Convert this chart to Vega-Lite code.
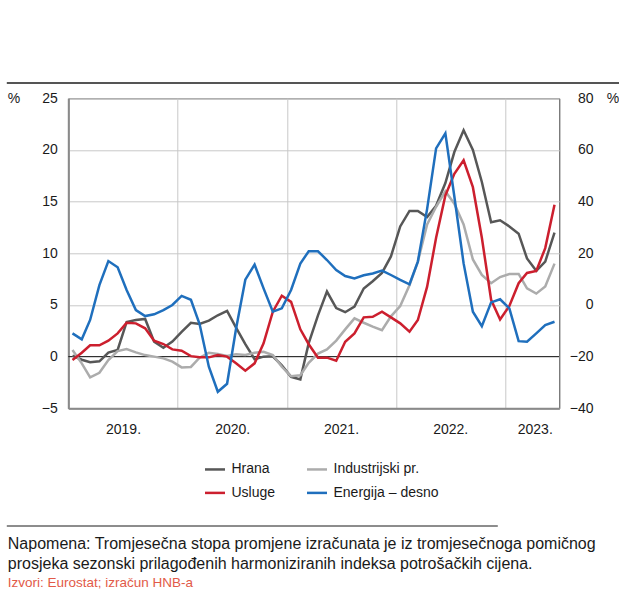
{
  "$schema": "https://vega.github.io/schema/vega-lite/v6.json",
  "width": 491,
  "height": 310,
  "autosize": {"type": "none"},
  "padding": {"left": 68.3, "top": 98.3, "right": 59.7, "bottom": 187.7},
  "config": {
    "font": "Liberation Sans",
    "view": {"stroke": "#444444", "strokeWidth": 1},
    "axis": {"labelFont": "Liberation Sans", "labelColor": "#1a1a1a", "labelFontSize": 14, "titleFont": "Liberation Sans", "titleFontSize": 14, "titleFontWeight": "normal", "titleColor": "#1a1a1a", "gridColor": "#c8c8c8", "gridWidth": 1},
    "legend": {"labelFont": "Liberation Sans", "labelFontSize": 14, "labelColor": "#1a1a1a"}
  },
  "title": {
    "text": ["Napomena: Tromjesečna stopa promjene izračunata je iz tromjesečnoga pomičnog", "prosjeka sezonski prilagođenih harmoniziranih indeksa potrošačkih cijena."],
    "subtitle": "Izvori: Eurostat; izračun HNB-a",
    "orient": "bottom", "anchor": "start", "frame": "group", "offset": 10, "dx": -60.5,
    "font": "Liberation Sans", "fontSize": 16, "fontWeight": "normal", "color": "#1a1a1a", "lineHeight": 20,
    "subtitleFont": "Liberation Sans", "subtitleFontSize": 13.5, "subtitleColor": "#e25a48", "subtitlePadding": 4, "subtitleLineHeight": 20
  },
  "data": {"values": [
    {"d": "2019-01-15", "Hrana": 0.1, "Usluge": -0.33, "Industrijski": 0.64, "Energija": -11.0},
    {"d": "2019-02-15", "Hrana": -0.3, "Usluge": 0.38, "Industrijski": -0.65, "Energija": -13.3},
    {"d": "2019-03-15", "Hrana": -0.55, "Usluge": 1.1, "Industrijski": -2.0, "Energija": -5.8},
    {"d": "2019-04-15", "Hrana": -0.45, "Usluge": 1.1, "Industrijski": -1.56, "Energija": 7.7},
    {"d": "2019-05-15", "Hrana": 0.4, "Usluge": 1.55, "Industrijski": -0.33, "Energija": 17.0},
    {"d": "2019-06-15", "Hrana": 0.65, "Usluge": 2.25, "Industrijski": 0.54, "Energija": 14.6},
    {"d": "2019-07-15", "Hrana": 3.35, "Usluge": 3.28, "Industrijski": 0.74, "Energija": 5.8},
    {"d": "2019-08-15", "Hrana": 3.55, "Usluge": 3.22, "Industrijski": 0.41, "Energija": -2.0},
    {"d": "2019-09-15", "Hrana": 3.65, "Usluge": 2.74, "Industrijski": 0.15, "Energija": -4.3},
    {"d": "2019-10-15", "Hrana": 1.45, "Usluge": 1.54, "Industrijski": 0.0, "Energija": -3.6},
    {"d": "2019-11-15", "Hrana": 0.85, "Usluge": 1.22, "Industrijski": -0.17, "Energija": -2.0},
    {"d": "2019-12-15", "Hrana": 1.45, "Usluge": 0.7, "Industrijski": -0.49, "Energija": 0.0},
    {"d": "2020-01-15", "Hrana": 2.4, "Usluge": 0.57, "Industrijski": -1.04, "Energija": 3.5},
    {"d": "2020-02-15", "Hrana": 3.28, "Usluge": 0.05, "Industrijski": -1.0, "Energija": 2.0},
    {"d": "2020-03-15", "Hrana": 3.16, "Usluge": -0.07, "Industrijski": -0.1, "Energija": -7.4},
    {"d": "2020-04-15", "Hrana": 3.48, "Usluge": -0.07, "Industrijski": 0.38, "Energija": -23.9},
    {"d": "2020-05-15", "Hrana": 4.0, "Usluge": 0.15, "Industrijski": 0.25, "Energija": -33.6},
    {"d": "2020-06-15", "Hrana": 4.42, "Usluge": 0.0, "Industrijski": 0.06, "Energija": -30.5},
    {"d": "2020-07-15", "Hrana": 2.8, "Usluge": -0.65, "Industrijski": 0.22, "Energija": -9.2},
    {"d": "2020-08-15", "Hrana": 1.2, "Usluge": -1.36, "Industrijski": 0.15, "Energija": 9.8},
    {"d": "2020-09-15", "Hrana": -0.25, "Usluge": -0.65, "Industrijski": 0.38, "Energija": 15.6},
    {"d": "2020-10-15", "Hrana": 0.0, "Usluge": 1.29, "Industrijski": 0.47, "Energija": 6.4},
    {"d": "2020-11-15", "Hrana": 0.03, "Usluge": 4.35, "Industrijski": 0.15, "Energija": -2.6},
    {"d": "2020-12-15", "Hrana": -0.85, "Usluge": 5.9, "Industrijski": -0.98, "Energija": -1.3},
    {"d": "2021-01-15", "Hrana": -1.95, "Usluge": 5.3, "Industrijski": -1.9, "Energija": 5.8},
    {"d": "2021-02-15", "Hrana": -2.2, "Usluge": 2.64, "Industrijski": -1.8, "Energija": 16.0},
    {"d": "2021-03-15", "Hrana": 1.3, "Usluge": 1.2, "Industrijski": -0.6, "Energija": 20.8},
    {"d": "2021-04-15", "Hrana": 4.0, "Usluge": -0.1, "Industrijski": 0.3, "Energija": 20.8},
    {"d": "2021-05-15", "Hrana": 6.3, "Usluge": -0.1, "Industrijski": 0.7, "Energija": 17.4},
    {"d": "2021-06-15", "Hrana": 4.7, "Usluge": -0.4, "Industrijski": 1.55, "Energija": 13.5},
    {"d": "2021-07-15", "Hrana": 4.3, "Usluge": 1.44, "Industrijski": 2.64, "Energija": 11.2},
    {"d": "2021-08-15", "Hrana": 4.85, "Usluge": 2.25, "Industrijski": 3.7, "Energija": 10.3},
    {"d": "2021-09-15", "Hrana": 6.6, "Usluge": 3.8, "Industrijski": 3.28, "Energija": 11.5},
    {"d": "2021-10-15", "Hrana": 7.3, "Usluge": 3.86, "Industrijski": 2.9, "Energija": 12.2},
    {"d": "2021-11-15", "Hrana": 8.1, "Usluge": 4.35, "Industrijski": 2.55, "Energija": 13.3},
    {"d": "2021-12-15", "Hrana": 9.7, "Usluge": 3.8, "Industrijski": 3.9, "Energija": 11.6},
    {"d": "2022-01-15", "Hrana": 12.6, "Usluge": 3.22, "Industrijski": 4.9, "Energija": 9.7},
    {"d": "2022-02-15", "Hrana": 14.1, "Usluge": 2.42, "Industrijski": 6.9, "Energija": 8.0},
    {"d": "2022-03-15", "Hrana": 14.1, "Usluge": 3.54, "Industrijski": 9.2, "Energija": 16.8},
    {"d": "2022-04-15", "Hrana": 13.5, "Usluge": 6.77, "Industrijski": 12.8, "Energija": 37.2},
    {"d": "2022-05-15", "Hrana": 14.6, "Usluge": 11.5, "Industrijski": 14.5, "Energija": 60.6},
    {"d": "2022-06-15", "Hrana": 16.8, "Usluge": 15.6, "Industrijski": 16.0, "Energija": 66.4},
    {"d": "2022-07-15", "Hrana": 19.8, "Usluge": 17.7, "Industrijski": 14.8, "Energija": 42.0},
    {"d": "2022-08-15", "Hrana": 21.9, "Usluge": 19.0, "Industrijski": 12.8, "Energija": 16.1},
    {"d": "2022-09-15", "Hrana": 20.0, "Usluge": 16.4, "Industrijski": 9.4, "Energija": -2.6},
    {"d": "2022-10-15", "Hrana": 16.9, "Usluge": 11.5, "Industrijski": 7.9, "Energija": -8.2},
    {"d": "2022-11-15", "Hrana": 13.0, "Usluge": 5.5, "Industrijski": 7.1, "Energija": 1.0},
    {"d": "2022-12-15", "Hrana": 13.2, "Usluge": 3.6, "Industrijski": 7.7, "Energija": 2.2},
    {"d": "2023-01-15", "Hrana": 12.6, "Usluge": 4.9, "Industrijski": 8.0, "Energija": -1.3},
    {"d": "2023-02-15", "Hrana": 11.9, "Usluge": 7.1, "Industrijski": 8.0, "Energija": -14.0},
    {"d": "2023-03-15", "Hrana": 9.5, "Usluge": 8.1, "Industrijski": 6.6, "Energija": -14.2},
    {"d": "2023-04-15", "Hrana": 8.3, "Usluge": 8.3, "Industrijski": 6.1, "Energija": -11.0},
    {"d": "2023-05-15", "Hrana": 9.2, "Usluge": 10.5, "Industrijski": 6.8, "Energija": -7.8},
    {"d": "2023-06-15", "Hrana": 12.0, "Usluge": 14.7, "Industrijski": 9.0, "Energija": -6.5}
  ]},
  "transform": [{"fold": ["Hrana", "Industrijski", "Usluge", "Energija"], "as": ["series", "value"]}],
  "layer": [
    {
      "layer": [
        {
          "data": {"values": [{"z": 0}]},
          "mark": {"type": "rule", "color": "#1a1a1a", "strokeWidth": 1},
          "encoding": {"y": {"field": "z", "type": "quantitative"}}
        },
        {
          "transform": [{"filter": "datum.series !== 'Energija'"}],
          "mark": {"type": "line", "strokeWidth": 2.5},
          "encoding": {
            "x": {"field": "d", "type": "temporal",
              "scale": {"type": "utc", "domain": [{"year": 2019, "month": 1, "date": 1, "utc": true}, {"year": 2023, "month": 7, "date": 1, "utc": true}]},
              "axis": {"orient": "bottom", "title": null, "grid": true, "labels": false, "ticks": false, "domain": true, "domainColor": "#8a8a8a", "domainWidth": 2,
                "values": [{"year": 2020, "month": 1, "date": 1, "utc": true}, {"year": 2021, "month": 1, "date": 1, "utc": true}, {"year": 2022, "month": 1, "date": 1, "utc": true}, {"year": 2023, "month": 1, "date": 1, "utc": true}]}},
            "y": {"field": "value", "type": "quantitative",
              "scale": {"domain": [-5, 25], "nice": false, "zero": false},
              "axis": {"orient": "left", "values": [-5, 0, 5, 10, 15, 20, 25], "grid": true, "ticks": false, "domain": true, "domainColor": "#8a8a8a", "domainWidth": 2, "labelPadding": 11,
                "title": "%", "titleAngle": 0, "titleX": -61, "titleY": 0, "titleAlign": "left", "titleBaseline": "middle"}},
            "color": {"field": "series", "type": "nominal",
              "scale": {"domain": ["Hrana", "Usluge", "Industrijski", "Energija"], "range": ["#575757", "#cc1f2e", "#acacac", "#1f6fbd"]},
              "legend": {"orient": "none", "legendX": 119.7, "legendY": 343.9, "columns": 2, "title": null, "symbolType": "stroke", "symbolSize": 400, "symbolStrokeWidth": 2.5, "labelOffset": 5, "columnPadding": 26, "rowPadding": 4.7, "padding": 15.5,
                "labelExpr": "datum.label === 'Industrijski' ? 'Industrijski pr.' : datum.label === 'Energija' ? 'Energija – desno' : datum.label"}},
            "order": {"field": "d", "type": "temporal"}
          }
        }
      ]
    },
    {
      "transform": [{"filter": "datum.series === 'Energija'"}],
      "mark": {"type": "line", "strokeWidth": 2.5},
      "encoding": {
        "x": {"field": "d", "type": "temporal",
          "axis": {"orient": "bottom", "title": null, "grid": false, "ticks": false, "domain": false, "labelPadding": 14,
            "labelExpr": "utcFormat(datum.value, '%Y') + '.'",
            "values": [{"year": 2019, "month": 7, "date": 3, "utc": true}, {"year": 2020, "month": 7, "date": 2, "utc": true}, {"year": 2021, "month": 7, "date": 1, "utc": true}, {"year": 2022, "month": 7, "date": 1, "utc": true}, {"year": 2023, "month": 4, "date": 10, "utc": true}]}},
        "y": {"field": "value", "type": "quantitative",
          "scale": {"domain": [-40, 80], "nice": false, "zero": false},
          "axis": {"orient": "right", "values": [-40, -20, 0, 20, 40, 60, 80], "grid": false, "ticks": false, "domain": false, "labelAlign": "right", "labelPadding": 33.7,
            "title": "%", "titleAngle": 0, "titleX": 47, "titleY": 0, "titleAlign": "left", "titleBaseline": "middle"}},
        "color": {"field": "series", "type": "nominal",
          "legend": {"orient": "none", "legendX": 119.7, "legendY": 343.9, "columns": 2, "title": null, "symbolType": "stroke", "symbolSize": 400, "symbolStrokeWidth": 2.5, "labelOffset": 5, "columnPadding": 26, "rowPadding": 4.7, "padding": 15.5,
            "labelExpr": "datum.label === 'Industrijski' ? 'Industrijski pr.' : datum.label === 'Energija' ? 'Energija – desno' : datum.label"}}
      }
    },
    {
      "data": {"values": []},
      "mark": "rule",
      "encoding": {"x": {"field": "d", "type": "temporal",
        "axis": {"orient": "top", "offset": 15.8, "position": -62, "labels": false, "ticks": false, "grid": false, "title": null, "domain": true, "domainColor": "#555555", "domainWidth": 2}}}
    },
    {
      "data": {"values": []},
      "mark": "rule",
      "encoding": {"x": {"field": "d", "type": "temporal",
        "axis": {"orient": "top", "offset": 15.8, "position": 122, "labels": false, "ticks": false, "grid": false, "title": null, "domain": true, "domainColor": "#555555", "domainWidth": 2}}}
    },
    {
      "data": {"values": []},
      "mark": "rule",
      "encoding": {"x": {"field": "d", "type": "temporal",
        "axis": {"orient": "bottom", "offset": 117.2, "position": -62, "labels": false, "ticks": false, "grid": false, "title": null, "domain": true, "domainColor": "#1a1a1a", "domainWidth": 1}}}
    }
  ],
  "resolve": {"scale": {"y": "independent"}, "axis": {"x": "independent", "y": "independent"}}
}
